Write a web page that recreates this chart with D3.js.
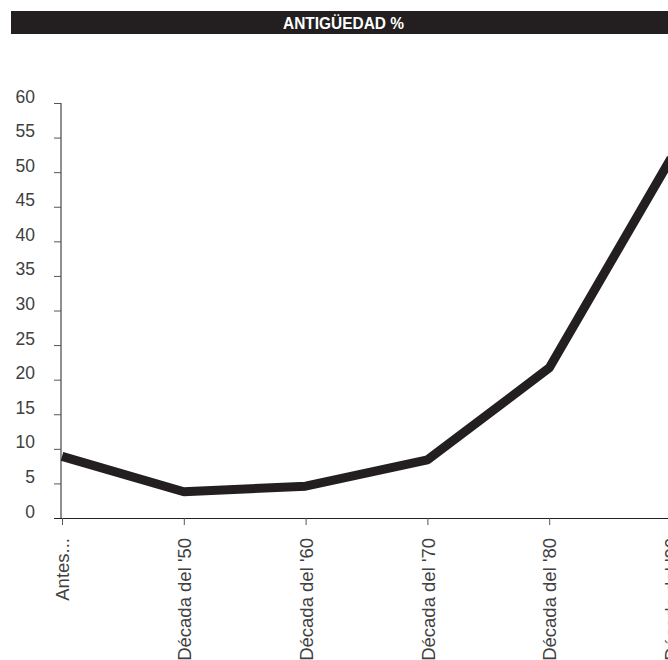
<!DOCTYPE html>
<html><head><meta charset="utf-8">
<script src="https://cdn.jsdelivr.net/npm/d3@7"></script>
<style>body{margin:0;background:#fff}svg{display:block}</style>
</head><body>
<script>
const categories = ["Antes...", "Década del '50", "Década del '60", "Década del '70", "Década del '80", "Década del '90"];
const values = [8.9, 3.8, 4.6, 8.4, 21.7, 52];
const yTicks = [0,5,10,15,20,25,30,35,40,45,50,55,60];
const title = "ANTIGÜEDAD %";

const W = 668, H = 660;
const svg = d3.select("body").append("svg").attr("width", W).attr("height", H);
const ink = "#231f20";

svg.append("rect").attr("x", 11).attr("y", 11).attr("width", W - 11).attr("height", 23).attr("fill", ink);
svg.append("text").attr("x", 343.5).attr("y", 29).attr("text-anchor", "middle")
  .attr("font-family", "'Liberation Sans Narrow', 'Liberation Sans', Arial, sans-serif")
  .attr("font-weight", "bold").attr("font-size", 17).attr("fill", "#fff")
  .attr("textLength", 121).attr("lengthAdjust", "spacingAndGlyphs").text(title);

const x = d3.scalePoint().domain(categories).range([62, 671]);
const y = d3.scaleLinear().domain([0, 60]).range([518, 103]);

const font = "'Liberation Sans', Arial, Helvetica, sans-serif";
const labelColor = "#404040";

const yAxis = svg.append("g").attr("transform", "translate(61,0)")
  .call(d3.axisLeft(y).tickValues(yTicks).tickSize(7).tickPadding(19));
yAxis.select(".domain").attr("stroke", ink).attr("d", `M0,${y(60)}V${y(0)}`);
yAxis.selectAll(".tick line").attr("stroke", "#555");
yAxis.selectAll("text").attr("font-family", font).attr("font-size", 17.5).attr("fill", labelColor)
  .attr("dy", null).attr("y", -1);

const xAxis = svg.append("g").attr("transform", "translate(0,518)")
  .call(d3.axisBottom(x).tickSize(7).tickSizeOuter(0));
xAxis.select(".domain").attr("stroke", ink).attr("d", `M54,0.5H${W}`);
xAxis.selectAll(".tick line").attr("stroke", "#555");
xAxis.selectAll("text").attr("font-family", font).attr("font-size", 18.5).attr("fill", labelColor)
  .attr("transform", "rotate(-90)").attr("text-anchor", "end")
  .attr("x", -20).attr("y", 0).attr("dy", "0.36em");

const line = d3.line().x((d, i) => x(categories[i])).y(d => y(d));
svg.append("path").datum(values).attr("d", line)
  .attr("fill", "none").attr("stroke", ink).attr("stroke-width", 9)
  .attr("stroke-linejoin", "bevel").attr("stroke-linecap", "butt");
</script>
</body></html>
